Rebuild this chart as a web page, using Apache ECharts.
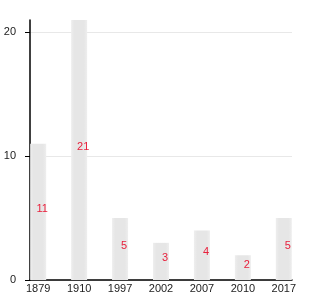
<!DOCTYPE html>
<html><head><meta charset="utf-8">
<script src="https://cdn.jsdelivr.net/npm/echarts@6/dist/echarts.min.js"></script>
<style>html,body{margin:0;padding:0;background:#fff}#c{width:330px;height:300px}</style>
</head><body><div id="c"></div>
<script>
const categories = ['1879', '1910', '1997', '2002', '2007', '2010', '2017'];
const values = [11, 21, 5, 3, 4, 2, 5];
const yTicks = [0, 10, 20];

const chart = echarts.init(document.getElementById('c'), null, {renderer: 'canvas'});
const barColor = new echarts.graphic.LinearGradient(0, 0, 1, 0, [
  {offset: 0, color: '#eeeeee'},
  {offset: 0.2, color: '#e6e6e6'},
  {offset: 0.8, color: '#e6e6e6'},
  {offset: 1, color: '#eeeeee'}
]);
chart.setOption({
  animation: false,
  grid: {left: 30, right: 38, top: 20, bottom: 20, containLabel: false},
  xAxis: {
    type: 'value', min: -0.2, max: 6.2,
    axisLine: {show: true, onZero: false, lineStyle: {color: '#000', width: 1.5}},
    axisTick: {show: false},
    splitLine: {show: false},
    axisLabel: {
      customValues: categories.map((c, i) => i),
      formatter: v => categories[Math.round(v)] || '',
      color: '#222', fontSize: 11, margin: 3, fontFamily: 'Liberation Sans, Arial, sans-serif'
    }
  },
  yAxis: {
    type: 'value', min: 0, max: 21,
    axisLine: {show: true, onZero: false, lineStyle: {color: '#000', width: 1.5}},
    axisTick: {show: true, length: 5, customValues: yTicks, lineStyle: {color: '#000'}},
    splitLine: {show: true, lineStyle: {color: '#e8e8e8', width: 1}},
    axisLabel: {customValues: yTicks, color: '#222', fontSize: 11, margin: 14, fontFamily: 'Liberation Sans, Arial, sans-serif'}
  },
  series: [{
    type: 'bar',
    barWidth: 16,
    data: values.map((v, i) => [i, v]),
    itemStyle: {color: barColor},
    label: {
      show: true, position: 'inside', offset: [4, -3],
      color: '#e8203c', fontSize: 11, fontFamily: 'Liberation Sans, Arial, sans-serif',
      formatter: p => p.value[1]
    }
  }]
});
</script></body></html>
